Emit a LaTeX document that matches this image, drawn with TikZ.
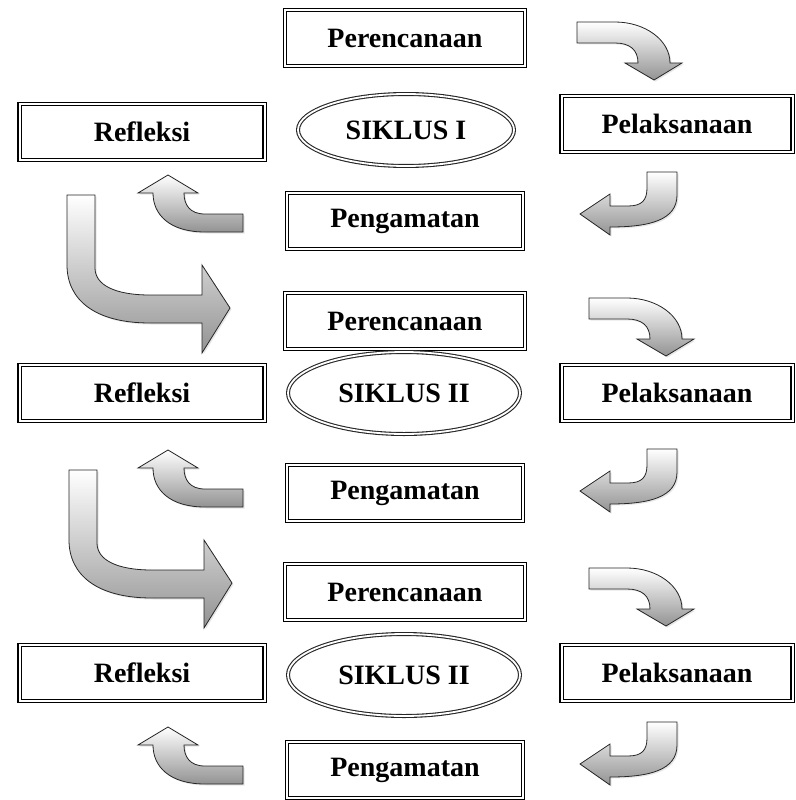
\documentclass[tikz,border=0pt]{standalone}
\usepackage{fontspec}
\setmainfont{Liberation Serif}
\usetikzlibrary{shapes.geometric, shadows}

\begin{document}
\begin{tikzpicture}[
        x=1pt, y=-1pt,
        every node/.style={font=\bfseries\fontsize{28}{32}\selectfont, inner sep=0pt},
        box/.style={draw, double, line width=1.3pt, double distance=2pt, rectangle, minimum height=56pt},
        oval/.style={draw=black!85, double, line width=1.1pt, double distance=1.8pt, ellipse},
        blockarrow/.style={draw=black!85, line width=0.8pt, top color=white, bottom color=gray!85,
            drop shadow={shadow xshift=1.5pt, shadow yshift=-1.5pt, opacity=0.2}},
        turndown/.pic={
            \path[blockarrow] (0,0) -- (38,0) .. controls (68,0) and (93,18) .. (93,41) -- (105,41) -- (77,58)
                -- (48,41) -- (61,41) .. controls (61,28) and (53,21) .. (38,21) -- (0,21) -- cycle;
        },
        turnleft/.pic={
            \path[blockarrow] (0,0) -- (30,0) -- (30,23) .. controls (30,48) and (3,55) .. (-37,55) -- (-37,63)
                -- (-67,42) -- (-37,22) -- (-37,34) -- (-19,34) .. controls (-5,34) and (0,28) .. (0,16) -- cycle;
        },
        turnup/.pic={
            \path[blockarrow] (0,0) -- (0,18) -- (-38,18) .. controls (-73,18) and (-90,1) .. (-90,-21) -- (-105,-21)
                -- (-75,-39) -- (-45,-21) -- (-59,-21) .. controls (-59,-9) and (-53,0) .. (-38,0) -- cycle;
        },
        bigturn/.pic={
            \path[blockarrow] (0,0) -- (28,0) -- (28,73) .. controls (28,90) and (48,100) .. (83,100) -- (135,100)
                -- (135,70) -- (163,113) -- (135,158) -- (135,128) -- (83,128) .. controls (28,128) and (0,105) .. (0,70) -- cycle;
        }
    ]
    \useasboundingbox (0,0) rectangle (795,800);

    % siklus I
    \node[box, minimum width=240pt] (per1) at (405,38) {Perencanaan};
    \node[box, minimum width=245pt] (ref1) at (142,132) {Refleksi};
    \node[oval, minimum width=216pt, minimum height=72pt] (sik1) at (406,130) {SIKLUS I};
    \node[box, minimum width=231pt] (pel1) at (677,124) {Pelaksanaan};
    \node[box, minimum width=236pt] (pen1) at (405,221) {Pengamatan};
    \pic at (577,22) {turndown};
    \pic at (647,172) {turnleft};
    \pic at (243,214) {turnup};
    \pic at (67,195) {bigturn};

    % siklus II
    \node[box, minimum width=240pt] (per2) at (405,321) {Perencanaan};
    \node[box, minimum width=245pt] (ref2) at (142,393) {Refleksi};
    \node[oval, minimum width=232pt, minimum height=82pt] (sik2) at (404,393) {SIKLUS II};
    \node[box, minimum width=231pt] (pel2) at (677,393) {Pelaksanaan};
    \node[box, minimum width=236pt] (pen2) at (405,493) {Pengamatan};
    \pic at (589,298) {turndown};
    \pic at (647,449) {turnleft};
    \pic at (243,489) {turnup};
    \pic at (69,470) {bigturn};

    % siklus III
    \node[box, minimum width=240pt] (per3) at (405,592) {Perencanaan};
    \node[box, minimum width=245pt] (ref3) at (142,673) {Refleksi};
    \node[oval, minimum width=232pt, minimum height=82pt] (sik3) at (404,675) {SIKLUS II};
    \node[box, minimum width=231pt] (pel3) at (677,673) {Pelaksanaan};
    \node[box, minimum width=236pt] (pen3) at (405,770) {Pengamatan};
    \pic at (589,568) {turndown};
    \pic at (647,722) {turnleft};
    \pic at (243,766) {turnup};
\end{tikzpicture}
\end{document}
